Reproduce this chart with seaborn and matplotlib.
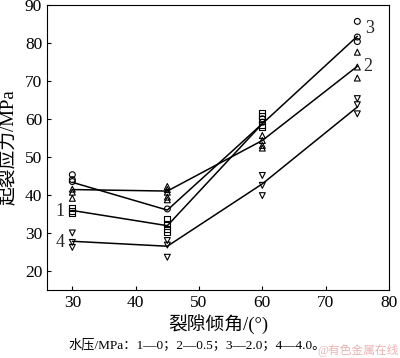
import pandas as pd
import matplotlib
matplotlib.use('Agg')
import matplotlib.pyplot as plt
import seaborn as sns

angle_1 = [30, 30, 30, 45, 45, 45, 45, 60, 60, 60, 60]
stress_1 = [36.5, 35.8, 35.2, 33.7, 32.4, 31.1, 30.3, 61.5, 60.7, 58.4, 57.8]
angle_2 = [30, 30, 30, 45, 45, 45, 45, 45, 60, 60, 60, 60, 75, 75, 75]
stress_2 = [41.5, 40.7, 39.1, 42.2, 41.4, 40.7, 39.4, 38.7, 55.6, 54.3, 53.0, 52.3, 77.5, 73.6, 70.7]
angle_3 = [30, 30, 30, 45, 60, 60, 75, 75, 75]
stress_3 = [45.3, 44.0, 43.5, 36.3, 60.0, 59.1, 85.6, 81.5, 80.3]
angle_4 = [30, 30, 30, 45, 45, 45, 60, 60, 60, 75, 75, 75]
stress_4 = [30.0, 27.5, 26.2, 28.0, 26.8, 23.6, 45.1, 42.5, 39.8, 65.3, 63.7, 61.3]

# fitted (mean) lines
line_x_1 = [30, 45, 60]
line_y_1 = [35.9, 31.9, 58.7]
line_x_2 = [30, 45, 60, 75]
line_y_2 = [41.4, 41.0, 54.3, 73.8]
line_x_3 = [30, 45, 60, 75]
line_y_3 = [43.3, 36.0, 58.7, 81.7]
line_x_4 = [30, 45, 60, 75]
line_y_4 = [27.8, 26.5, 42.9, 63.1]

markers = {'1': 's', '2': '^', '3': 'o', '4': 'v'}

pts = pd.concat([
    pd.DataFrame({'angle': angle_1, 'stress': stress_1, 'series': '1'}),
    pd.DataFrame({'angle': angle_2, 'stress': stress_2, 'series': '2'}),
    pd.DataFrame({'angle': angle_3, 'stress': stress_3, 'series': '3'}),
    pd.DataFrame({'angle': angle_4, 'stress': stress_4, 'series': '4'}),
])
lines = pd.concat([
    pd.DataFrame({'angle': line_x_1, 'stress': line_y_1, 'series': '1'}),
    pd.DataFrame({'angle': line_x_2, 'stress': line_y_2, 'series': '2'}),
    pd.DataFrame({'angle': line_x_3, 'stress': line_y_3, 'series': '3'}),
    pd.DataFrame({'angle': line_x_4, 'stress': line_y_4, 'series': '4'}),
])

sns.set_theme(style='ticks')
plt.rcParams['font.family'] = ['Liberation Serif', 'Noto Sans CJK SC']
plt.rcParams['xtick.direction'] = 'in'
plt.rcParams['ytick.direction'] = 'in'

fig = plt.figure(figsize=(4.0, 3.58), dpi=100)
ax = fig.add_axes([0.1175, 0.19, 0.855, 0.797])

sns.lineplot(data=lines, x='angle', y='stress', units='series', estimator=None,
             color='black', linewidth=1.1, ax=ax)
sns.scatterplot(data=pts, x='angle', y='stress', style='series', markers=markers,
                facecolor='none', edgecolor='black', linewidth=0.8, s=18,
                legend=False, ax=ax)

ax.set_xlim(26, 80)
ax.set_ylim(15, 90)
ax.set_xticks([30, 40, 50, 60, 70, 80])
ax.set_yticks([20, 30, 40, 50, 60, 70, 80, 90])
ax.tick_params(labelsize=12.5, length=3, width=0.8, color='black', labelcolor='black')
for sp in ax.spines.values():
    sp.set_color('black')
    sp.set_linewidth(0.8)

ax.set_xlabel('裂隙倾角/(°)', fontsize=13.5, color='black', labelpad=3)
ax.set_ylabel('起裂应力/MPa', fontsize=13.5, color='black', labelpad=5)

ax.text(28.0, 35.5, '1', fontsize=13, ha='center', va='center')
ax.text(28.0, 27.4, '4', fontsize=13, ha='center', va='center')
ax.text(76.9, 83.8, '3', fontsize=13, ha='center', va='center')
ax.text(76.7, 73.7, '2', fontsize=13, ha='center', va='center')

fig.text(0.17, 0.037, '水压/MPa：1—0；2—0.5；3—2.0；4—4.0。', fontsize=9.5,
         ha='left', va='center', color='black')
fig.text(0.997, 0.022, '@有色金属在线', fontsize=8.5, ha='right', va='center',
         color='#e8a0a0', alpha=0.8)

fig.savefig('out.png', dpi=100)
